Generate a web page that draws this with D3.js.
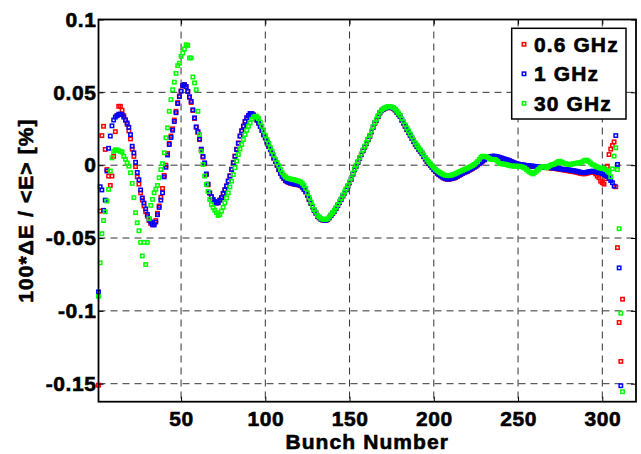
<!DOCTYPE html>
<html>
<head>
<meta charset="utf-8">
<script src="https://cdn.jsdelivr.net/npm/d3@7"></script>
<style>
body { margin: 0; background: #fff; }
text { font-family: "Liberation Sans", Arial, sans-serif; font-weight: bold; fill: #000; stroke: #000; stroke-width: 0.6; }
</style>
</head>
<body>
<svg width="641" height="454"></svg>
<script>
// energy deviation per bunch (bunch = index + 1)
const red06 = [
  -0.151, -0.0315, 0.0203, 0.0267, 0.0108, -0.003, -0.0075, -0.0139, -0.0075, 0.006,
  0.023, 0.034, 0.0404, 0.0404, 0.0377, 0.034, 0.031, 0.028, 0.0235, 0.018,
  0.011, 0.006, -0.001, -0.008, -0.013, -0.019, -0.024, -0.028, -0.032, -0.035,
  -0.038, -0.040, -0.041, -0.0405, -0.038, -0.033, -0.028, -0.022, -0.016, -0.007,
  0.0, 0.008, 0.015, 0.020, 0.025, 0.031, 0.037, 0.043, 0.0475, 0.051,
  0.0548, 0.0553, 0.0538, 0.0505, 0.0465, 0.043, 0.0375, 0.032, 0.026, 0.0225,
  0.0175, 0.0105, 0.0055, 0.001, -0.0065, -0.0135, -0.0193, -0.0218, -0.0237, -0.0252,
  -0.026, -0.0258, -0.024, -0.0222, -0.0193, -0.0168, -0.0142, -0.0108, -0.0072, -0.0027,
  0.002, 0.0063, 0.011, 0.0153, 0.0201, 0.0237, 0.0268, 0.0301, 0.0326, 0.0341,
  0.0354, 0.0354, 0.0344, 0.0334, 0.0308, 0.0288, 0.0265, 0.0238, 0.0208, 0.0186,
  0.0158, 0.0128, 0.0105, 0.0078, 0.0048, 0.0025, -0.0002, -0.0032, -0.0057, -0.0077,
  -0.0092, -0.0107, -0.0114, -0.012, -0.0124, -0.0127, -0.013, -0.0132, -0.0134, -0.0137,
  -0.0142, -0.0152, -0.0167, -0.0184, -0.0207, -0.0237, -0.0262, -0.0287, -0.0312, -0.033,
  -0.0352, -0.0362, -0.0372, -0.0377, -0.038, -0.038, -0.0374, -0.0362, -0.0347, -0.0332,
  -0.0317, -0.0297, -0.0277, -0.0257, -0.0237, -0.0212, -0.0192, -0.017, -0.0146, -0.0122,
  -0.0097, -0.0062, -0.0032, -0.0007, 0.0018, 0.0046, 0.0071, 0.0098, 0.0123, 0.0148,
  0.0174, 0.0198, 0.0228, 0.0258, 0.0288, 0.0308, 0.0333, 0.0358, 0.0373, 0.0381,
  0.0388, 0.0393, 0.0396, 0.0396, 0.0393, 0.0388, 0.0378, 0.0363, 0.0348, 0.0334,
  0.0308, 0.0288, 0.0266, 0.0243, 0.0223, 0.0203, 0.0183, 0.0162, 0.0143, 0.0126,
  0.0108, 0.0094, 0.0078, 0.0058, 0.0041, 0.0025, 0.001, -0.0002, -0.0017, -0.0032,
  -0.0044, -0.0056, -0.0066, -0.0074, -0.0082, -0.0089, -0.0094, -0.0097, -0.0097, -0.0094,
  -0.0092, -0.0089, -0.0084, -0.0077, -0.007, -0.0064, -0.0058, -0.0052, -0.0047, -0.0042,
  -0.0035, -0.0029, -0.0022, -0.0015, -0.0008, 0.0001, 0.001, 0.0018, 0.0028, 0.0036,
  0.0044, 0.005, 0.0055, 0.0058, 0.006, 0.006, 0.0058, 0.0055, 0.0052, 0.0048,
  0.0044, 0.004, 0.0037, 0.0033, 0.0028, 0.0023, 0.0018, 0.0013, 0.0009, 0.0006,
  0.0003, 0.0001, 0.0, -0.0002, -0.0004, -0.0005, -0.0007, -0.0008, -0.0009, -0.001,
  -0.0011, -0.0012, -0.0013, -0.0014, -0.0015, -0.0016, -0.0017, -0.0018, -0.0019, -0.002,
  -0.0021, -0.0023, -0.0025, -0.0027, -0.0029, -0.0031, -0.0033, -0.0035, -0.0037, -0.0039,
  -0.0041, -0.0043, -0.0045, -0.0047, -0.005, -0.0053, -0.0056, -0.0058, -0.006, -0.0058,
  -0.0055, -0.0052, -0.005, -0.0048, -0.005, -0.006, -0.0075, -0.0086, -0.011, -0.012,
  -0.013, -0.0093, -0.0007, 0.0073, 0.011, 0.0135, 0.016, -0.0148, -0.0566, -0.108,
  -0.1347, -0.092
];

const blue1 = [
  -0.087, -0.0148, -0.017, -0.031, -0.024, -0.004, 0.0116, 0.020, 0.027, 0.031,
  0.033, 0.034, 0.035, 0.035, 0.0347, 0.033, 0.031, 0.029, 0.026, 0.021,
  0.013, 0.0085, 0.002, -0.005, -0.010, -0.017, -0.0225, -0.026, -0.030, -0.0338,
  -0.037, -0.039, -0.0406, -0.041, -0.039, -0.034, -0.029, -0.024, -0.019, -0.008,
  -0.0014, 0.007, 0.0142, 0.019, 0.024, 0.030, 0.036, 0.0423, 0.047, 0.0507,
  0.0546, 0.0553, 0.054, 0.0507, 0.047, 0.0438, 0.038, 0.0325, 0.0263, 0.023,
  0.018, 0.011, 0.006, 0.0016, -0.006, -0.013, -0.019, -0.0215, -0.0235, -0.025,
  -0.0258, -0.0258, -0.024, -0.0223, -0.0195, -0.017, -0.0144, -0.011, -0.0075, -0.003,
  0.0016, 0.006, 0.0107, 0.015, 0.0199, 0.0235, 0.0267, 0.030, 0.0325, 0.034,
  0.0354, 0.0354, 0.0345, 0.0336, 0.031, 0.029, 0.0267, 0.024, 0.021, 0.0188,
  0.016, 0.013, 0.0107, 0.008, 0.005, 0.0027, 0.0, -0.003, -0.0055, -0.0075,
  -0.009, -0.0105, -0.0112, -0.0118, -0.0122, -0.0125, -0.0128, -0.013, -0.0132, -0.0135,
  -0.014, -0.015, -0.0165, -0.0182, -0.0205, -0.0235, -0.026, -0.0285, -0.031, -0.0328,
  -0.035, -0.036, -0.037, -0.0375, -0.0378, -0.0378, -0.0372, -0.036, -0.0345, -0.033,
  -0.0315, -0.0295, -0.0275, -0.0255, -0.0235, -0.021, -0.019, -0.0168, -0.0144, -0.012,
  -0.0095, -0.006, -0.003, -0.0005, 0.002, 0.0048, 0.0073, 0.010, 0.0125, 0.015,
  0.0176, 0.020, 0.023, 0.026, 0.029, 0.031, 0.0335, 0.036, 0.0375, 0.0383,
  0.039, 0.0395, 0.0398, 0.0398, 0.0395, 0.039, 0.038, 0.0365, 0.035, 0.0336,
  0.031, 0.029, 0.0268, 0.0245, 0.0225, 0.0205, 0.0185, 0.0164, 0.0145, 0.0128,
  0.011, 0.0096, 0.008, 0.006, 0.0043, 0.0027, 0.0012, 0.0, -0.0015, -0.003,
  -0.0042, -0.0054, -0.0064, -0.0072, -0.008, -0.0087, -0.0092, -0.0095, -0.0095, -0.0092,
  -0.009, -0.0087, -0.0082, -0.0075, -0.0068, -0.0062, -0.0056, -0.005, -0.0045, -0.004,
  -0.0033, -0.0027, -0.002, -0.0013, -0.0006, 0.0003, 0.0012, 0.002, 0.003, 0.0038,
  0.0046, 0.0052, 0.0057, 0.006, 0.0062, 0.0062, 0.006, 0.0057, 0.0054, 0.005,
  0.0046, 0.0042, 0.0039, 0.0035, 0.003, 0.0025, 0.002, 0.0015, 0.0011, 0.0008,
  0.0005, 0.0003, 0.0002, 0.0, -0.0002, -0.0003, -0.0005, -0.0006, -0.0007, -0.0008,
  -0.0009, -0.001, -0.0011, -0.0012, -0.0013, -0.0014, -0.0015, -0.0016, -0.0017, -0.0018,
  -0.0018, -0.002, -0.0022, -0.0024, -0.0025, -0.0027, -0.0028, -0.003, -0.0031, -0.0033,
  -0.0034, -0.0036, -0.0038, -0.004, -0.0042, -0.0045, -0.0048, -0.005, -0.0052, -0.005,
  -0.0048, -0.0045, -0.0043, -0.0041, -0.0042, -0.0045, -0.0048, -0.005, -0.0052, -0.0058,
  -0.0064, -0.007, -0.0078, -0.009, -0.0105, -0.012, -0.0144, 0.0203, 0.0005, -0.0705,
  -0.1514
];

const green30 = [
  -0.090, -0.067, -0.047, -0.038, -0.032, -0.0246, -0.0166, -0.004, 0.005, 0.0095,
  0.0105, 0.0105, 0.010, 0.0095, 0.009, 0.006, 0.004, 0.0016, -0.0007, -0.0052,
  -0.0125, -0.0223, -0.0326, -0.0395, -0.045, -0.053, -0.0623, -0.053, -0.0682, -0.053,
  -0.0367, -0.0276, -0.0235, -0.019, -0.0165, -0.0139, -0.0086, -0.003, 0.001, 0.0085,
  0.0188, 0.0256, 0.037, 0.045, 0.0518, 0.057, 0.063, 0.0683, 0.070, 0.0747,
  0.077, 0.0797, 0.0827, 0.0822, 0.0736, 0.0736, 0.0605, 0.0565, 0.0518, 0.037,
  0.021, 0.0096, 0.0005, -0.0075, -0.0132, -0.018, -0.0235, -0.027, -0.029, -0.031,
  -0.0326, -0.0345, -0.034, -0.0315, -0.029, -0.0258, -0.0225, -0.019, -0.015, -0.011,
  -0.0065, -0.0018, 0.0028, 0.0073, 0.011, 0.0142, 0.0176, 0.021, 0.024, 0.0267,
  0.029, 0.0315, 0.033, 0.0336, 0.0333, 0.032, 0.0295, 0.0267, 0.0235, 0.0205,
  0.0176, 0.015, 0.012, 0.0096, 0.007, 0.004, 0.0016, -0.0005, -0.003, -0.0052,
  -0.0068, -0.008, -0.0088, -0.0092, -0.0095, -0.0098, -0.010, -0.0103, -0.0107, -0.011,
  -0.0115, -0.0125, -0.014, -0.016, -0.019, -0.022, -0.0252, -0.028, -0.0305, -0.0322,
  -0.0345, -0.0355, -0.0365, -0.037, -0.0373, -0.0373, -0.0367, -0.0355, -0.034, -0.0325,
  -0.031, -0.029, -0.027, -0.025, -0.023, -0.0205, -0.0185, -0.0163, -0.0139, -0.0115,
  -0.009, -0.0055, -0.0025, 0.0, 0.0025, 0.0053, 0.0078, 0.0105, 0.013, 0.0155,
  0.018, 0.0205, 0.0235, 0.0265, 0.0293, 0.0315, 0.034, 0.0363, 0.0378, 0.0387,
  0.0394, 0.0399, 0.0402, 0.0402, 0.040, 0.0395, 0.0386, 0.0372, 0.0357, 0.0343,
  0.0318, 0.0298, 0.0277, 0.0254, 0.0234, 0.0214, 0.0194, 0.0173, 0.0154, 0.0137,
  0.0119, 0.0105, 0.0089, 0.007, 0.0053, 0.0037, 0.0022, 0.001, -0.0005, -0.0018,
  -0.0028, -0.0038, -0.0046, -0.0053, -0.006, -0.0066, -0.007, -0.0072, -0.0072, -0.007,
  -0.0066, -0.0062, -0.0057, -0.0052, -0.0046, -0.0041, -0.0036, -0.003, -0.0025, -0.002,
  -0.0014, -0.0008, -0.0002, 0.0005, 0.0015, 0.0025, 0.004, 0.0055, 0.0062, 0.006,
  0.006, 0.0052, 0.0045, 0.004, 0.004, 0.0039, 0.0035, 0.0025, 0.0012, 0.001,
  0.0008, 0.0007, 0.0005, 0.0, -0.0003, -0.0005, -0.0006, -0.0007, -0.0007, -0.0007,
  -0.0008, -0.001, -0.0015, -0.002, -0.003, -0.004, -0.0048, -0.0055, -0.006, -0.005,
  -0.004, -0.003, -0.0018, -0.0012, -0.001, -0.0012, -0.0018, -0.001, -0.0002, 0.0003,
  0.0005, 0.001, 0.0018, 0.0025, 0.0027, 0.002, 0.0015, 0.001, 0.0008, 0.0005,
  0.0005, 0.0008, 0.001, 0.0012, 0.0015, 0.0016, 0.0016, 0.0022, 0.003, 0.0034,
  0.0034, 0.0025, 0.0015, 0.0005, 0.0, -0.0008, -0.0012, -0.0018, -0.002, -0.0022,
  -0.0025, -0.003, -0.004, -0.005, -0.008, -0.0025, 0.0062, 0.0119, -0.003, -0.0436,
  -0.1016, -0.1555
];

const seriesNames = ['0.6 GHz', '1 GHz', '30 GHz'];
const seriesColors = ['#ff0000', '#0000ff', '#00ff00'];
const xTicks = [50, 100, 150, 200, 250, 300];
const yTicks = [-0.15, -0.1, -0.05, 0, 0.05, 0.1];
const yTickLabels = ['-0.15', '-0.1', '-0.05', '0', '0.05', '0.1'];

const svg = d3.select('svg');
const pLeft = 98.5, pRight = 636, pTop = 19.5, pBottom = 401.7;
const mk = 3.4;

const x = d3.scaleLinear().domain([1, 320]).range([pLeft, pRight]);
const y = d3.scaleLinear().domain([-0.16236, 0.1]).range([pBottom, pTop]);

// dashed grid
const grid = svg.append('g')
  .attr('stroke', '#333')
  .attr('stroke-width', 1)
  .attr('stroke-dasharray', '7,5');
grid.selectAll('.gx').data(xTicks).join('line')
  .attr('x1', d => x(d)).attr('x2', d => x(d))
  .attr('y1', pTop).attr('y2', pBottom);
grid.selectAll('.gy').data(yTicks).join('line')
  .attr('x1', pLeft).attr('x2', pRight)
  .attr('y1', d => y(d)).attr('y2', d => y(d));

// markers
const allSeries = [red06, blue1, green30];
allSeries.forEach((vals, k) => {
  svg.append('g')
    .selectAll('rect')
    .data(vals)
    .join('rect')
      .attr('x', (d, i) => x(i + 1) - mk / 2)
      .attr('y', d => y(d) - mk / 2)
      .attr('width', mk)
      .attr('height', mk)
      .attr('fill', 'none')
      .attr('stroke', seriesColors[k])
      .attr('stroke-width', 1.5);
});

// axes
const xAxis = svg.append('g')
  .attr('transform', `translate(0, ${pBottom})`)
  .call(d3.axisBottom(x).tickValues(xTicks).tickSize(-5).tickPadding(9));
const yAxis = svg.append('g')
  .attr('transform', `translate(${pLeft}, 0)`)
  .call(d3.axisLeft(y).tickValues(yTicks).tickSize(-5).tickPadding(2)
    .tickFormat((d, i) => yTickLabels[i]));
svg.append('g')
  .attr('transform', `translate(0, ${pTop})`)
  .call(d3.axisTop(x).tickValues(xTicks).tickSize(-5).tickFormat(''));
svg.append('g')
  .attr('transform', `translate(${pRight}, 0)`)
  .call(d3.axisRight(y).tickValues(yTicks).tickSize(-5).tickFormat(''));

svg.selectAll('.domain').remove();
svg.selectAll('.tick line').attr('stroke', '#000').attr('stroke-width', 1);
[xAxis, yAxis].forEach(a => a.selectAll('text')
  .attr('font-size', 21)
  .attr('letter-spacing', 0.6)
  .style('font-family', '"Liberation Sans", Arial, sans-serif')
  .style('font-weight', 'bold'));

svg.append('rect')
  .attr('x', pLeft).attr('y', pTop)
  .attr('width', pRight - pLeft).attr('height', pBottom - pTop)
  .attr('fill', 'none')
  .attr('stroke', '#000')
  .attr('stroke-width', 1.8);

// axis titles
svg.append('text')
  .attr('x', (pLeft + pRight) / 2)
  .attr('y', 449)
  .attr('text-anchor', 'middle')
  .attr('font-size', 21)
  .attr('letter-spacing', 1.1)
  .text('Bunch Number');

svg.append('text')
  .attr('transform', `translate(33, ${(pTop + pBottom) / 2}) rotate(-90)`)
  .attr('text-anchor', 'middle')
  .attr('font-size', 21)
  .attr('letter-spacing', 1.1)
  .text('100*ΔE / <E> [%]');

// legend
const legend = svg.append('g');
legend.append('rect')
  .attr('x', 511.7).attr('y', 28.3)
  .attr('width', 114.3).attr('height', 90.7)
  .attr('fill', '#fff')
  .attr('stroke', '#000')
  .attr('stroke-width', 1.5);
seriesNames.forEach((name, k) => {
  const cy = 44.3 + k * 29.5;
  legend.append('rect')
    .attr('x', 524 - mk / 2).attr('y', cy - mk / 2)
    .attr('width', mk).attr('height', mk)
    .attr('fill', 'none')
    .attr('stroke', seriesColors[k])
    .attr('stroke-width', 1.5);
  legend.append('text')
    .attr('x', 534)
    .attr('y', cy)
    .attr('dy', '0.36em')
    .attr('font-size', 21)
    .attr('letter-spacing', 1.1)
    .text(name);
});
</script>
</body>
</html>
